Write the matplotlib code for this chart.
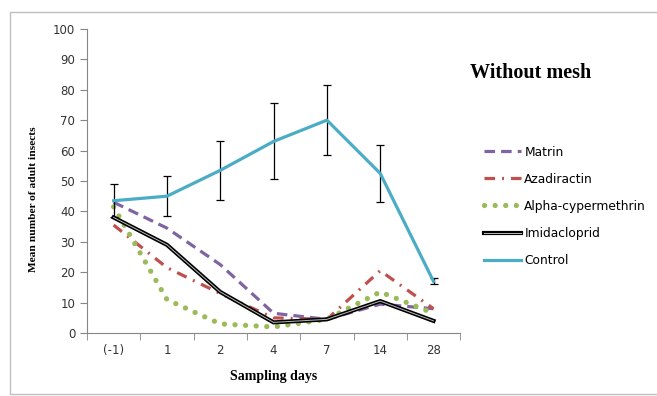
import matplotlib.pyplot as plt
import matplotlib.patches as mpatches
from matplotlib.lines import Line2D
import numpy as np

days = ['(-1)', '1', '2', '4', '7', '14', '28']
matrin = [43, 34.5, 22.5, 6.5, 4.5, 9.5, 8]
azadiractin = [35.5, 21.5, 13, 5, 4.5, 20.5, 8]
alpha = [41.5, 11, 3, 2, 4.5, 13.5, 6.5]
imidacloprid = [38, 29, 13.5, 3.5, 4.5, 10.5, 4]
control = [43.5, 45, 53.5, 63, 70, 52.5, 17]
control_err = [5.5, 6.5, 9.8, 12.5, 11.5, 9.3, 1]

purple = '#8064a2'
red = '#c0504d'
green = '#9bbb59'
blue = '#4bacc6'

fig = plt.figure(figsize=(6.57, 3.96), dpi=100)
ax = fig.add_axes([0.1324, 0.159, 0.568, 0.768])

x = np.arange(len(days))
ax.plot(x, matrin, color=purple, lw=2.3, dashes=(3.3, 1.9))
ax.plot(x, azadiractin, color=red, lw=2.3, dashes=(3.3, 2.2, 0.6, 2.2))
ax.plot(x, alpha, color=green, lw=3.8, linestyle=(0, (0.01, 2.0)),
        dash_capstyle='round')
ax.plot(x, imidacloprid, color='black', lw=3.0, zorder=4)
ax.plot(x, imidacloprid, color='#b8b8b8', lw=0.7, zorder=5)
ax.errorbar(x, control, yerr=control_err, color=blue, lw=2.3,
            ecolor='black', elinewidth=0.9, capsize=3, capthick=0.9, zorder=3)

ax.set_xlim(-0.5, 6.5)
ax.set_ylim(0, 100)
ax.set_yticks(range(0, 101, 10))
ax.set_xticks(x)
ax.set_xticklabels(days)
ax.set_xticks(np.arange(-0.5, 7, 1), minor=True)
ax.tick_params(axis='x', which='major', length=0, pad=8)
ax.tick_params(axis='x', which='minor', length=5, color='#868686')
ax.tick_params(axis='y', length=5, color='#868686')
ax.tick_params(labelsize=8.5, labelcolor='#333333')
for s in ['top', 'right']:
    ax.spines[s].set_visible(False)
for s in ['left', 'bottom']:
    ax.spines[s].set_color('#868686')

serif = ['Liberation Serif', 'DejaVu Serif']
ax.set_xlabel('Sampling days', family=serif, fontweight='bold', fontsize=10, labelpad=9)
ax.set_ylabel('Mean number of adult insects', family=serif, fontweight='bold', fontsize=8.2)
ax.yaxis.set_label_coords(-0.13, 0.44)
fig.text(0.716, 0.803, 'Without mesh', family=serif, fontweight='bold', fontsize=14.5)

imid_handle = (Line2D([], [], color='black', lw=3.0), Line2D([], [], color='#b8b8b8', lw=0.7))
handles = [
    Line2D([], [], color=purple, lw=2.3, dashes=(3.3, 1.9)),
    Line2D([], [], color=red, lw=2.3, dashes=(3.3, 2.2, 0.6, 2.2)),
    Line2D([], [], color=green, lw=3.8, linestyle=(0, (0.01, 2.0)), dash_capstyle='round'),
    imid_handle,
    Line2D([], [], color=blue, lw=2.3),
]
names = ['Matrin', 'Azadiractin', 'Alpha-cypermethrin', 'Imidacloprid', 'Control']
fig.legend(handles, names, loc='upper left', bbox_to_anchor=(0.72, 0.66),
           frameon=False, fontsize=8.8, handlelength=3.0, handletextpad=0.3,
           labelspacing=1.15)

# outer frame
fig.patches.append(mpatches.Rectangle((0.015, 0.005), 1.2, 0.965, transform=fig.transFigure,
                                      fill=False, edgecolor='#bfbfbf', lw=1))

fig.savefig('out.png', dpi=100)
